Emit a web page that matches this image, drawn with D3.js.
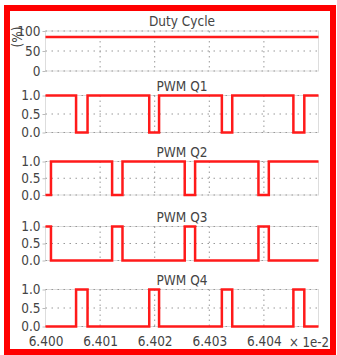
<!DOCTYPE html>
<html>
<head>
<meta charset="utf-8">
<script src="https://cdn.jsdelivr.net/npm/d3@7"></script>
<style>
  html, body { margin: 0; padding: 0; background: #fff; }
  svg { display: block; }
</style>
</head>
<body>
<div id="chart"></div>
<script>
// PWM waveforms — time in units of 1e-2 s
const xTicks = [6.400, 6.401, 6.402, 6.403, 6.404];
const xDomain = [6.400, 6.405];

const dutyT = [6.400, 6.405];
const dutyV = [85, 85];

// step points: value holds from each time until the next
const q1T = [6.4000, 6.40056, 6.40077, 6.40190, 6.40208, 6.40323, 6.40342, 6.40454, 6.40474, 6.4050];
const q1V = [1, 0, 1, 0, 1, 0, 1, 0, 1, 1];
const q2T = [6.4000, 6.40010, 6.40122, 6.40141, 6.40255, 6.40274, 6.40390, 6.40409, 6.4050];
const q2V = [0, 1, 0, 1, 0, 1, 0, 1, 1];
const q3T = [6.4000, 6.40010, 6.40122, 6.40141, 6.40255, 6.40274, 6.40390, 6.40409, 6.4050];
const q3V = [1, 0, 1, 0, 1, 0, 1, 0, 0];
const q4T = [6.4000, 6.40056, 6.40077, 6.40190, 6.40208, 6.40323, 6.40342, 6.40454, 6.40474, 6.4050];
const q4V = [0, 1, 0, 1, 0, 1, 0, 1, 0, 0];

const titles = ['Duty Cycle', 'PWM Q1', 'PWM Q2', 'PWM Q3', 'PWM Q4'];
const pwmTicks = [0, 0.5, 1];
const dutyTicks = [0, 50, 100];

const W = 337, H = 355;
const FONT = "'DejaVu Sans Condensed', 'DejaVu Sans', sans-serif";
const FS = '13.5px';
const TXT = '#444';
const GRID = '#999';

const svg = d3.select('#chart').append('svg')
  .attr('width', W).attr('height', H);

const x = d3.scaleLinear().domain(xDomain).range([45.5, 318.5]);

// panel boxes: [top, bottom]
const panels = [
  { t: dutyT, v: dutyV, dom: [0, 100], ticks: dutyTicks, fmt: d3.format('d'),  top: 31,    bot: 71 },
  { t: q1T,   v: q1V,   dom: [0, 1],   ticks: pwmTicks,  fmt: d3.format('.1f'), top: 95.5,  bot: 132.5 },
  { t: q2T,   v: q2V,   dom: [0, 1],   ticks: pwmTicks,  fmt: d3.format('.1f'), top: 161.5, bot: 195 },
  { t: q3T,   v: q3V,   dom: [0, 1],   ticks: pwmTicks,  fmt: d3.format('.1f'), top: 226.5, bot: 260.5 },
  { t: q4T,   v: q4V,   dom: [0, 1],   ticks: pwmTicks,  fmt: d3.format('.1f'), top: 289.5, bot: 326.5 }
];

panels.forEach((p, i) => {
  const y = d3.scaleLinear().domain(p.dom).range([p.bot, p.top]);
  const g = svg.append('g');

  // frame
  g.append('rect')
    .attr('x', x.range()[0]).attr('y', p.top)
    .attr('width', x.range()[1] - x.range()[0]).attr('height', p.bot - p.top)
    .attr('fill', 'none').attr('stroke', '#ddd').attr('stroke-width', 1);

  // grid
  g.selectAll('.gx').data(xTicks.slice(1)).enter().append('line')
    .attr('x1', d => x(d)).attr('x2', d => x(d))
    .attr('y1', p.top).attr('y2', p.bot)
    .attr('stroke', GRID).attr('stroke-width', 1).attr('stroke-dasharray', '1.5,3.5');
  g.selectAll('.gy').data(p.ticks).enter().append('line')
    .attr('x1', x.range()[0]).attr('x2', x.range()[1])
    .attr('y1', d => y(d)).attr('y2', d => y(d))
    .attr('stroke', GRID).attr('stroke-width', 1).attr('stroke-dasharray', '1.5,4.5');

  // y axis labels
  g.append('g')
    .attr('transform', `translate(${x.range()[0]},0)`)
    .call(d3.axisLeft(y).tickValues(p.ticks).tickFormat(p.fmt).tickSize(3).tickPadding(2))
    .call(a => a.select('.domain').remove())
    .call(a => a.selectAll('.tick line').attr('stroke', '#bbb'))
    .call(a => a.selectAll('.tick text')
      .attr('fill', TXT).attr('font-size', FS).attr('font-family', FONT));

  // title
  g.append('text')
    .attr('x', (x.range()[0] + x.range()[1]) / 2)
    .attr('y', p.top - 5)
    .attr('text-anchor', 'middle')
    .attr('font-size', FS).attr('font-family', FONT).attr('fill', TXT)
    .text(titles[i]);

  // waveform
  const pts = p.t.map((t, k) => [t, p.v[k]]);
  g.append('path')
    .datum(pts)
    .attr('d', d3.line().x(d => x(d[0])).y(d => y(d[1])).curve(d3.curveStepAfter))
    .attr('fill', 'none').attr('stroke', '#ff1a1a').attr('stroke-width', 2.5);

  // bottom x axis on last panel
  if (i === panels.length - 1) {
    g.append('g')
      .attr('transform', `translate(0,${p.bot})`)
      .call(d3.axisBottom(x).tickValues(xTicks).tickFormat(d3.format('.3f')).tickSize(0).tickPadding(9.5))
      .call(a => a.select('.domain').remove())
      .call(a => a.selectAll('.tick text')
        .attr('fill', TXT).attr('font-size', FS).attr('font-family', FONT));
  }
});

// y label of duty panel
svg.append('text')
  .attr('transform', 'translate(22,37) rotate(-90)')
  .attr('text-anchor', 'middle')
  .attr('font-size', FS).attr('font-family', FONT).attr('fill', TXT)
  .text('(%)');

// offset label
svg.append('text')
  .attr('x', 289).attr('y', 346.5)
  .attr('textLength', 40).attr('lengthAdjust', 'spacingAndGlyphs')
  .attr('font-size', FS).attr('font-family', FONT).attr('fill', TXT)
  .text('× 1e-2');

// outer red frame
svg.append('rect')
  .attr('x', 7).attr('y', 8).attr('width', 326).attr('height', 344)
  .attr('fill', 'none').attr('stroke', '#ff0000').attr('stroke-width', 6);
</script>
</body>
</html>
